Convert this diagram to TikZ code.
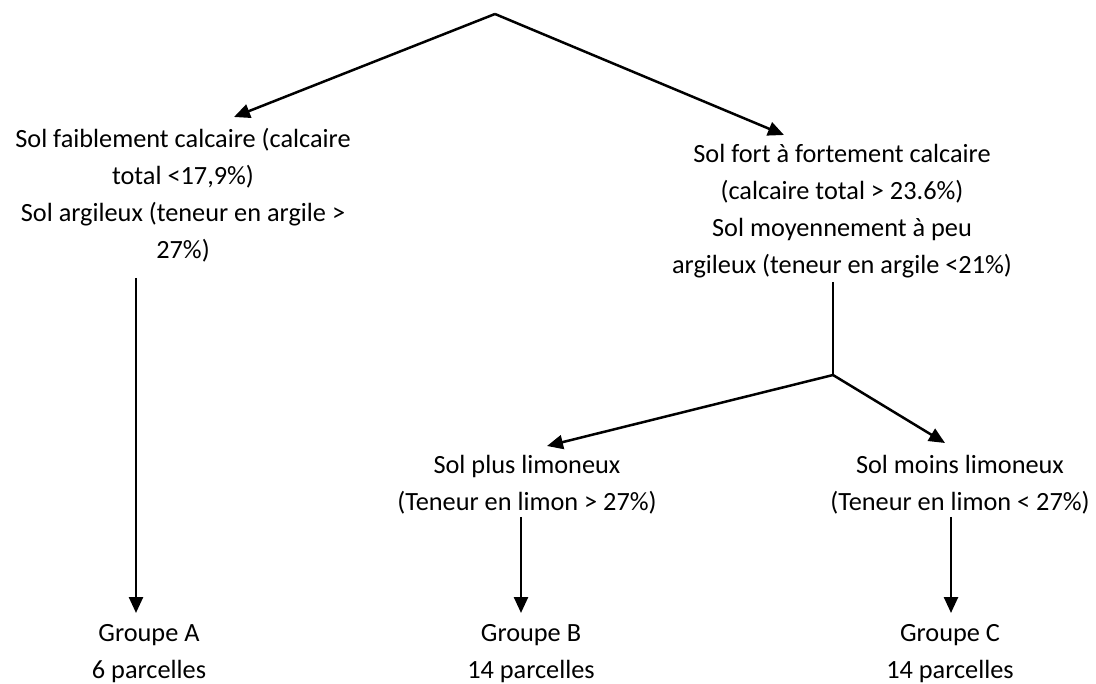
\documentclass[tikz,border=0pt]{standalone}
\usepackage{fontspec}
\setmainfont{Carlito}
\usetikzlibrary{arrows.meta}
\begin{document}
\begin{tikzpicture}[x=1pt,y=-1pt,
  txt/.style={align=center,inner sep=0pt,font=\fontsize{26.3}{37}\selectfont},
  arr/.style={line width=2.5pt,-{Triangle[length=16pt,width=14pt]}},
  ln/.style={line width=2.5pt}]
\useasboundingbox (0,0) rectangle (1096,684);
% text blocks
\node[txt] (L) at (183,195) {Sol faiblement calcaire (calcaire\\total <17,9\%)\\Sol argileux (teneur en argile >\\27\%)};
\node[txt] (R) at (842,211) {Sol fort à fortement calcaire\\(calcaire total > 23.6\%)\\Sol moyennement à peu\\argileux (teneur en argile <21\%)};
\node[txt] (P) at (527,485) {Sol plus limoneux\\(Teneur en limon > 27\%)};
\node[txt] (M) at (960,485) {Sol moins limoneux\\(Teneur en limon < 27\%)};
\node[txt] (GA) at (149,654) {Groupe A\\6 parcelles};
\node[txt] (GB) at (531,654) {Groupe B\\14 parcelles};
\node[txt] (GC) at (950,654) {Groupe C\\14 parcelles};
% connector points
\coordinate (top) at (495,14);
\coordinate (tL) at (234,117);
\coordinate (tR) at (784,135);
\coordinate (sA) at (136,278);
\coordinate (eA) at (136,613);
\coordinate (sR) at (833,282);
\coordinate (jR) at (833,375);
\coordinate (tP) at (547,446);
\coordinate (tM) at (945,443);
\coordinate (sB) at (521,517);
\coordinate (eB) at (521,613);
\coordinate (sC) at (951,517);
\coordinate (eC) at (951,613);
% connectors
\draw[arr] (top) -- (tL);
\draw[arr] (top) -- (tR);
\draw[arr] (sA) -- (eA);
\draw[ln] (sR) -- (jR);
\draw[arr] (jR) -- (tP);
\draw[arr] (jR) -- (tM);
\draw[arr] (sB) -- (eB);
\draw[arr] (sC) -- (eC);
\end{tikzpicture}
\end{document}
